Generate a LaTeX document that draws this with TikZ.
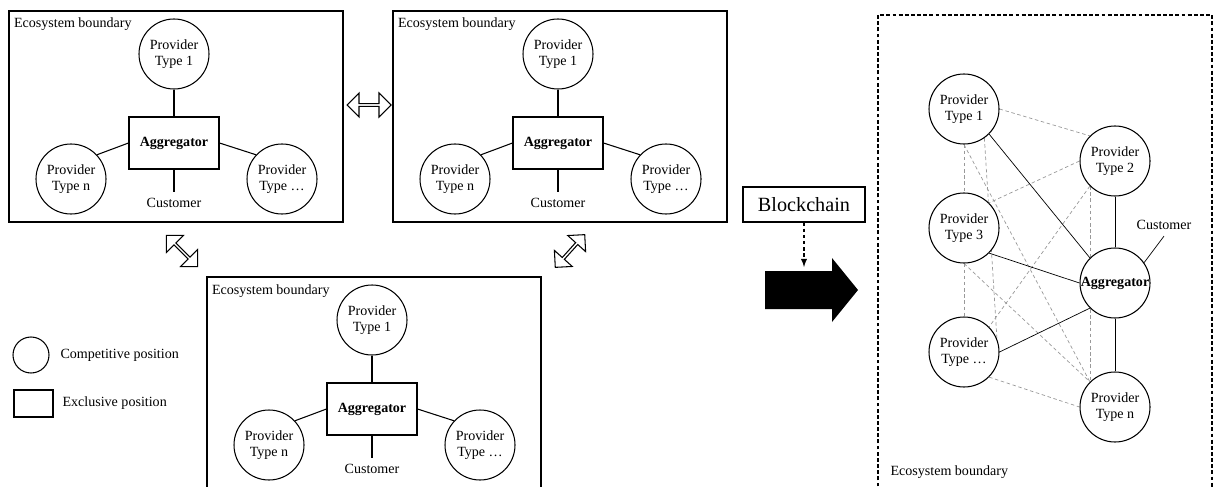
\documentclass[tikz,border=0pt]{standalone}
\usepackage{fontspec}
\setmainfont{Liberation Serif}
\usetikzlibrary{shapes.arrows,backgrounds}

\begin{document}
\begin{tikzpicture}[scale=1,
  font=\fontsize{8}{9}\selectfont,
  line width=0.6pt,
  provider/.style={circle, draw, fill=white, minimum size=1.4cm, inner sep=0pt, align=center},
  aggbox/.style={rectangle, draw, fill=white, minimum width=1.8cm, minimum height=1.04cm, inner sep=0pt, font=\fontsize{8}{9}\selectfont\bfseries},
  ecolabel/.style={anchor=base west, inner sep=0pt},
  exchange/.style={double arrow, draw, fill=white, minimum height=0.88cm, minimum width=0.48cm, double arrow head extend=0.08cm, inner sep=0pt},
  peerlink/.style={black!40, line width=0.4pt, dash pattern=on 2pt off 1.5pt}
]

\useasboundingbox (0,0) rectangle (24.28,9.72) ;
\clip (0,0) rectangle (24.28,9.72) ;

% ecosystem top left
\draw [line width=0.7pt] (0.18,5.28) rectangle (6.86,9.50) ;
\node [ecolabel] (labA) at (0.27,9.16) {Ecosystem boundary} ;
\node [provider] (a1) at (3.48,8.64) {Provider\\Type 1} ;
\node [aggbox] (aagg) at (3.48,6.86) {Aggregator} ;
\node [provider] (an) at (1.42,6.14) {Provider\\Type n} ;
\node [provider] (ax) at (5.64,6.14) {Provider\\Type …} ;
\node (acust) at (3.48,5.66) {Customer} ;
\draw (a1) -- (aagg) ;
\draw (aagg.west) -- (an.43) ;
\draw (aagg.east) -- (ax.137) ;
\draw (aagg) -- (acust) ;

% ecosystem top right
\draw [line width=0.7pt] (7.86,5.28) rectangle (14.54,9.50) ;
\node [ecolabel] (labB) at (7.95,9.16) {Ecosystem boundary} ;
\node [provider] (b1) at (11.16,8.64) {Provider\\Type 1} ;
\node [aggbox] (bagg) at (11.16,6.86) {Aggregator} ;
\node [provider] (bn) at (9.10,6.14) {Provider\\Type n} ;
\node [provider] (bx) at (13.32,6.14) {Provider\\Type …} ;
\node (bcust) at (11.16,5.66) {Customer} ;
\draw (b1) -- (bagg) ;
\draw (bagg.west) -- (bn.43) ;
\draw (bagg.east) -- (bx.137) ;
\draw (bagg) -- (bcust) ;

% ecosystem bottom
\draw [line width=0.7pt] (4.14,-0.04) rectangle (10.82,4.18) ;
\node [ecolabel] (labC) at (4.23,3.84) {Ecosystem boundary} ;
\node [provider] (c1) at (7.44,3.32) {Provider\\Type 1} ;
\node [aggbox] (cagg) at (7.44,1.54) {Aggregator} ;
\node [provider] (cn) at (5.38,0.82) {Provider\\Type n} ;
\node [provider] (cx) at (9.60,0.82) {Provider\\Type …} ;
\node (ccust) at (7.44,0.34) {Customer} ;
\draw (c1) -- (cagg) ;
\draw (cagg.west) -- (cn.43) ;
\draw (cagg.east) -- (cx.137) ;
\draw (cagg) -- (ccust) ;

% exchange between ecosystems
\node [exchange] (swapab) at (7.38,7.62) {} ;
\node [exchange, rotate=-45] (swapac) at (3.64,4.70) {} ;
\node [exchange, rotate=48] (swapbc) at (11.40,4.70) {} ;

% legend
\node [circle, draw, minimum size=0.72cm, inner sep=0pt] (legcirc) at (0.62,2.62) {} ;
\node [anchor=west, inner sep=0pt] (legcomp) at (1.20,2.62) {Competitive position} ;
\node [draw, minimum width=0.78cm, minimum height=0.54cm, inner sep=0pt] (legrect) at (0.67,1.65) {} ;
\node [anchor=west, inner sep=0pt] (legexcl) at (1.24,1.66) {Exclusive position} ;

% blockchain transition
\node [draw, minimum width=2.44cm, minimum height=0.70cm, font=\fontsize{11.5}{13}\selectfont] (chain) at (16.08,5.63) {Blockchain} ;
\fill (15.30,4.30) -- (16.64,4.30) -- (16.64,4.56) -- (17.16,3.92) -- (16.64,3.28) -- (16.64,3.54) -- (15.30,3.54) -- cycle ;
\coordinate (chaintip) at (16.08,4.38) ;
\draw [dash pattern=on 2pt off 1.5pt, -{latex}] (chain) -- (chaintip) ;

% ecosystem with blockchain
\draw [dash pattern=on 2.2pt off 1.3pt, line width=0.7pt] (17.56,-0.5) rectangle (24.24,9.42) ;
\node [ecolabel] (labD) at (17.80,0.22) {Ecosystem boundary} ;
\node [provider] (d1) at (19.28,7.54) {Provider\\Type 1} ;
\node [provider] (d2) at (22.30,6.50) {Provider\\Type 2} ;
\node [provider] (d3) at (19.28,5.16) {Provider\\Type 3} ;
\node [provider] (dx) at (19.28,2.68) {Provider\\Type …} ;
\node [provider] (dn) at (22.30,1.58) {Provider\\Type n} ;
\node [provider, font=\fontsize{8}{9}\selectfont\bfseries] (dagg) at (22.30,4.06) {\makebox[0pt]{Aggregator}} ;
\node (dcust) at (23.28,5.22) {Customer} ;

\begin{pgfonlayer}{background}
\draw [peerlink] (d1.east) -- (d2.north west) ;
\draw [peerlink] (d1.south) -- (d3.north) ;
\draw [peerlink] (d1.-55) -- (dx.22) ;
\draw [peerlink] (d1.south) -- (dn.north west) ;
\draw [peerlink] (d2.west) -- (d3.north east) ;
\draw [peerlink] (d2.south west) -- (dx.north east) ;
\draw [peerlink] (d2.south west) -- (dn.north west) ;
\draw [peerlink] (d3.south) -- (dx.north) ;
\draw [peerlink] (d3.south) -- (dn.north west) ;
\draw [peerlink] (dx.south east) -- (dn.west) ;
\end{pgfonlayer}

\draw (d1.south east) -- (dagg.north west) ;
\draw (d2) -- (dagg) ;
\draw (d3.south east) -- (dagg.west) ;
\draw (dx.east) -- (dagg.south west) ;
\draw (dagg) -- (dn) ;
\draw (dagg.35) -- (dcust.south) ;

\end{tikzpicture}
\end{document}
